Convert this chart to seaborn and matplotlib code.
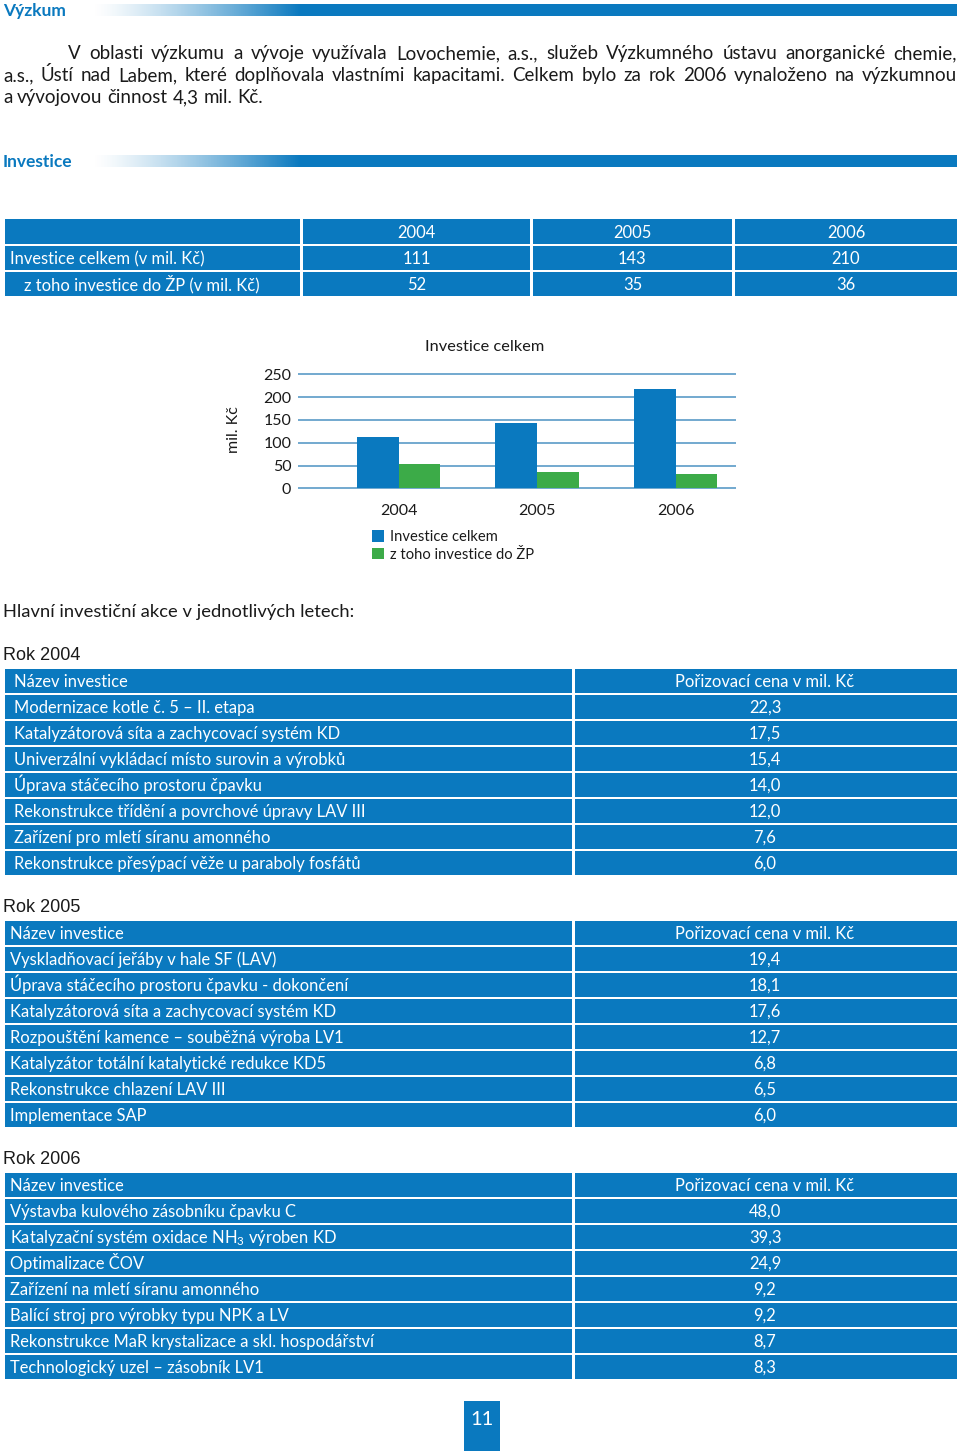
import numpy as np
import pandas as pd
import matplotlib
matplotlib.use("Agg")
import matplotlib.pyplot as plt
import matplotlib.colors as mcolors
from matplotlib.patches import Rectangle
import seaborn as sns

# ---------------- data ----------------
years = ["2004", "2005", "2006"]
table_total = [111, 143, 210]
table_env = [52, 35, 36]
chart_total = [112, 143, 217]
chart_env = [54, 36, 31]
series_names = ["Investice celkem", "z toho investice do ŽP"]
yticks = [0, 50, 100, 150, 200, 250]

items_2004 = ["Modernizace kotle č. 5 – II. etapa",
              "Katalyzátorová síta a zachycovací systém KD",
              "Univerzální vykládací místo surovin a výrobků",
              "Úprava stáčecího prostoru čpavku",
              "Rekonstrukce třídění a povrchové úpravy LAV III",
              "Zařízení pro mletí síranu amonného",
              "Rekonstrukce přesýpací věže u paraboly fosfátů"]
costs_2004 = [22.3, 17.5, 15.4, 14.0, 12.0, 7.6, 6.0]

items_2005 = ["Vyskladňovací jeřáby v hale SF (LAV)",
              "Úprava stáčecího prostoru čpavku - dokončení",
              "Katalyzátorová síta a zachycovací systém KD",
              "Rozpouštění kamence – souběžná výroba LV1",
              "Katalyzátor totální katalytické redukce KD5",
              "Rekonstrukce chlazení LAV III",
              "Implementace SAP"]
costs_2005 = [19.4, 18.1, 17.6, 12.7, 6.8, 6.5, 6.0]

items_2006 = ["Výstavba kulového zásobníku čpavku C",
              "Katalyzační systém oxidace NH$_3$ výroben KD",
              "Optimalizace ČOV",
              "Zařízení na mletí síranu amonného",
              "Balící stroj pro výrobky typu NPK a LV",
              "Rekonstrukce MaR krystalizace a skl. hospodářství",
              "Technologický uzel – zásobník LV1"]
costs_2006 = [48.0, 39.3, 24.9, 9.2, 9.2, 8.7, 8.3]

paragraph = [
    "V oblasti výzkumu a vývoje využívala Lovochemie, a.s., služeb Výzkumného ústavu anorganické chemie,",
    "a.s., Ústí nad Labem, které doplňovala vlastními kapacitami. Celkem bylo za rok 2006 vynaloženo na výzkumnou",
    "a vývojovou činnost 4,3 mil. Kč.",
]

# ---------------- style ----------------
BLUE = "#0a79bf"
GREEN = "#3cab48"
GRID = "#4b92c2"
TXT = "#1a1a1a"

sns.set_theme(style="white")
plt.rcParams["font.family"] = ["Lato", "DejaVu Sans"]
plt.rcParams["mathtext.fontset"] = "custom"
plt.rcParams["mathtext.rm"] = "Lato"
plt.rcParams["mathtext.default"] = "regular"

W, H = 960, 1451
fig = plt.figure(figsize=(W / 100, H / 100), dpi=100)
fig.patch.set_facecolor("white")
page = fig.add_axes([0, 0, 1, 1])
page.set_autoscale_on(False)
page.set_xlim(0, W)
page.set_ylim(H, 0)
page.axis("off")


def fy(ypx):
    return 1 - ypx / H


def header_bar(y0, y1, label, ybase):
    x0, xg, x1 = 92, 300, 957
    n = 256
    grad = np.zeros((1, n, 4))
    grad[..., :3] = mcolors.to_rgb(BLUE)
    grad[..., 3] = np.linspace(0, 1, n) ** 1.3
    page.imshow(grad, extent=(x0, xg, y1, y0), aspect="auto",
                interpolation="bilinear", zorder=1)
    page.add_patch(Rectangle((xg - 0.5, y0), x1 - xg + 0.5, y1 - y0,
                             facecolor=BLUE, lw=0, zorder=1))
    page.text(3, ybase, label, color=BLUE, fontsize=12.5, fontweight="bold",
              va="baseline", ha="left")


def cell(x0, x1, y0, y1):
    page.add_patch(Rectangle((x0, y0), x1 - x0, y1 - y0, facecolor=BLUE, lw=0, zorder=1))


header_bar(4, 16, "Výzkum", 16)
header_bar(155, 167, "Investice", 167)

# justified paragraph
renderer = fig.canvas.get_renderer()
par_fs = 13.5
line_specs = [(68, 957, 59, True), (3, 957, 81, True), (3, 957, 103, False)]
for line, (lx0, lx1, ly, just) in zip(paragraph, line_specs):
    words = line.split(" ")
    ts = [page.text(0, ly, w, fontsize=par_fs, color=TXT, va="baseline", ha="left")
          for w in words]
    widths = [t.get_window_extent(renderer).width for t in ts]
    space = ts[0].get_fontsize() * 100 / 72 * 0.26
    if just and len(words) > 1:
        gap = (lx1 - lx0 - sum(widths)) / (len(words) - 1)
    else:
        gap = space
    x = lx0
    for t, w in zip(ts, widths):
        t.set_x(x)
        x += w + gap

# table 1
cols1 = [(5, 300), (303, 530), (533, 732), (735, 957)]
rows1 = [(219, 244), (246, 270), (272, 296)]
for r in rows1:
    for c in cols1:
        cell(c[0], c[1], r[0], r[1])
tfs = 11.9
BOFF = 6.0
for j, yv in enumerate(years):
    cx = (cols1[j + 1][0] + cols1[j + 1][1]) / 2
    page.text(cx, sum(rows1[0]) / 2 + BOFF, yv, color="white", fontsize=tfs, ha="center", va="baseline")
    page.text(cx, sum(rows1[1]) / 2 + BOFF, str(table_total[j]), color="white", fontsize=tfs, ha="center", va="baseline")
    page.text(cx, sum(rows1[2]) / 2 + BOFF, str(table_env[j]), color="white", fontsize=tfs, ha="center", va="baseline")
page.text(10, sum(rows1[1]) / 2 + BOFF, "Investice celkem (v mil. Kč)", color="white", fontsize=tfs, va="baseline")
page.text(24, sum(rows1[2]) / 2 + BOFF, "z toho investice do ŽP (v mil. Kč)", color="white", fontsize=tfs, va="baseline")

# ---------------- chart ----------------
ax_l, ax_r, ax_t, ax_b = 297.6, 736.5, 369.0, 491.0
ax = fig.add_axes([ax_l / W, fy(ax_b), (ax_r - ax_l) / W, (ax_b - ax_t) / H])
df = pd.DataFrame({
    "rok": years * 2,
    "serie": [series_names[0]] * 3 + [series_names[1]] * 3,
    "hodnota": chart_total + chart_env,
})
sns.barplot(data=df, x="rok", y="hodnota", hue="serie", palette=[BLUE, GREEN],
            width=0.6, gap=0, saturation=1, ax=ax, legend=True, errorbar=None,
            linewidth=0)
ppu = (488.3 - 374.3) / 250.0
ax.set_ylim(-(ax_b - 488.3) / ppu, 250 + (374.3 - ax_t) / ppu)
gs = 138.5
ax.set_xlim((ax_l - 398.5) / gs, 2 + (ax_r - 675.6) / gs)
ax.set_yticks(yticks)
ax.set_yticklabels([str(v) for v in yticks])
ax.yaxis.grid(True, color=GRID, lw=1.1)
ax.xaxis.grid(False)
ax.set_axisbelow(True)
for s in ax.spines.values():
    s.set_visible(False)
ax.tick_params(axis="y", length=0, pad=4.5, labelsize=11.5, labelcolor=TXT)
ax.tick_params(axis="x", length=0, pad=9, labelsize=11.5, labelcolor=TXT)
ax.set_xlabel("")
ax.set_ylabel("mil. Kč", fontsize=11.5, color=TXT, labelpad=16)
ax.set_title("Investice celkem", fontsize=11.8, color=TXT, pad=13,
             x=(485 - ax_l) / (ax_r - ax_l))
ax.patch.set_alpha(0)

handles, labels = ax.get_legend_handles_labels()
ax.legend(handles, labels, loc="upper left",
          bbox_to_anchor=(372 / W, fy(530)), bbox_transform=fig.transFigure,
          frameon=False, fontsize=10.6, handlelength=0.82, handleheight=0.82,
          handletextpad=0.42, labelspacing=0.25, borderpad=0, borderaxespad=0,
          labelcolor=TXT)

# ---------------- investment tables ----------------
page.text(3, 617, "Hlavní investiční akce v jednotlivých letech:", fontsize=13.2,
          color=TXT, va="baseline")


def inv_table(title, ybase, top, names, costs, tx):
    page.text(3, ybase, title, fontsize=13, color=TXT, va="baseline",
              family=["Liberation Sans", "DejaVu Sans"])
    rows = ["Název investice"] + names
    vals = ["Pořizovací cena v mil. Kč"] + [f"{v:.1f}".replace(".", ",") for v in costs]
    for i, (nm, vl) in enumerate(zip(rows, vals)):
        y0 = top + 26 * i
        y1 = y0 + 24
        cell(5, 572, y0, y1)
        cell(575, 957, y0, y1)
        by = (y0 + y1) / 2 + BOFF
        page.text(tx, by, nm, color="white", fontsize=tfs, va="baseline", ha="left")
        page.text(765, by, vl, color="white", fontsize=tfs, va="baseline", ha="center")


inv_table("Rok 2004", 660, 669, items_2004, costs_2004, 14)
inv_table("Rok 2005", 912, 921, items_2005, costs_2005, 10)
inv_table("Rok 2006", 1164, 1173, items_2006, costs_2006, 10)

# page number
page.add_patch(Rectangle((464, 1401), 36, 52, facecolor=BLUE, lw=0))
page.text(482, 1425, "11", color="white", fontsize=14.5, ha="center", va="baseline")

page.set_xlim(0, W)
page.set_ylim(H, 0)
fig.savefig("out.png", dpi=100, facecolor="white")
